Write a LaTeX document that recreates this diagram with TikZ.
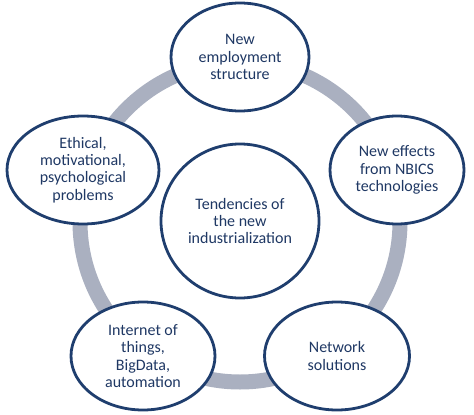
\documentclass[tikz,border=0pt]{standalone}
\usepackage{fontspec}
\setmainfont{Carlito}
\usetikzlibrary{shapes.geometric}
\definecolor{ringgray}{RGB}{170,176,192}
\definecolor{edgeblue}{RGB}{31,62,110}
\definecolor{textblue}{RGB}{31,56,100}
\tikzset{
  bubble/.style={ellipse, draw=edgeblue, line width=2.8pt, fill=white, inner sep=0pt,
    text=textblue, align=center, font=\fontsize{16}{17.2}\selectfont},
}
\begin{document}
\begin{tikzpicture}[x=1pt,y=-1pt]
\useasboundingbox (0,0) rectangle (474,415);
\draw[ringgray, line width=15pt] (240,222) circle[radius=160];
\node[bubble, minimum width=138pt, minimum height=108pt] (top) at (240,57) {New\\employment\\structure};
\node[bubble, minimum width=134pt, minimum height=108pt] (right) at (397,170) {New effects\\from NBICS\\technologies};
\node[bubble, minimum width=152pt, minimum height=108pt] (left) at (83,170) {Ethical,\\motivational,\\psychological\\problems};
\node[bubble, minimum width=144pt, minimum height=108pt] (bl) at (143,356) {Internet of\\things,\\BigData,\\automation};
\node[bubble, minimum width=145pt, minimum height=108pt] (br) at (337,356) {Network\\solutions};
\node[bubble, minimum width=158pt, minimum height=154pt] (center) at (240,221) {Tendencies of\\the new\\industrialization};
\end{tikzpicture}
\end{document}
